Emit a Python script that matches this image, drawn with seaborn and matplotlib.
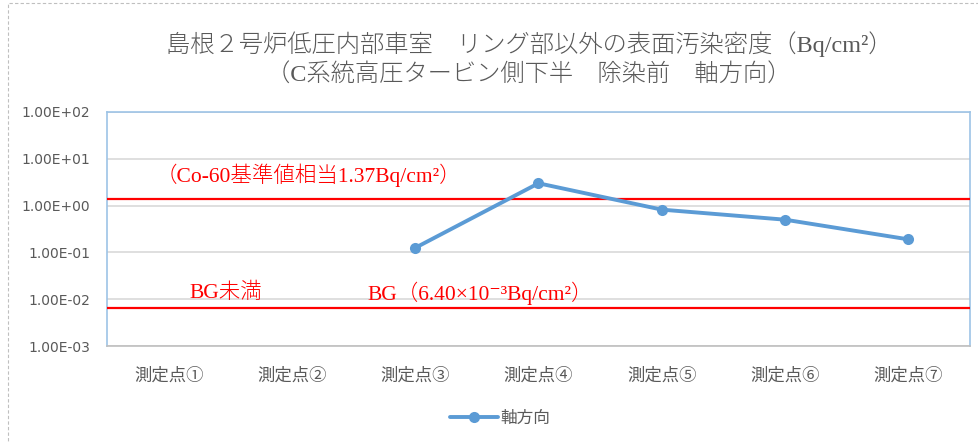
import numpy as np
import pandas as pd
import matplotlib
matplotlib.use("Agg")
import matplotlib.pyplot as plt
import seaborn as sns
from matplotlib.patches import Rectangle
from matplotlib.ticker import FixedLocator, NullLocator

# Data
categories = ["測定点①", "測定点②", "測定点③", "測定点④", "測定点⑤", "測定点⑥", "測定点⑦"]
measured_idx = [2, 3, 4, 5, 6]
measured_vals = [0.125, 3.0, 0.82, 0.50, 0.19]
series_name = "軸方向"
co60_ref = 1.37
bg_level = 6.40e-3
y_ticks = [1e-3, 1e-2, 1e-1, 1e0, 1e1, 1e2]
y_tick_labels = ["1.00E-03", "1.00E-02", "1.00E-01", "1.00E+00", "1.00E+01", "1.00E+02"]

sns.set_theme(style="white")
plt.rcParams["font.family"] = ["Noto Sans CJK JP", "DejaVu Sans"]

SERIF_JP = ["Liberation Serif", "DejaVu Serif", "Noto Sans CJK JP"]
BLUE = "#5B9BD5"
GREY = "#595959"
RED = "#FF0000"

fig = plt.figure(figsize=(9.79, 4.43), dpi=100)
ax = fig.add_axes([107 / 979, 1 - 346 / 443, (970 - 107) / 979, (346 - 112) / 443])

df = pd.DataFrame({"x": measured_idx, "y": measured_vals, "系列": series_name})
sns.lineplot(data=df, x="x", y="y", hue="系列", palette=[BLUE], marker="o",
             markersize=8, markeredgewidth=0, linewidth=2.8, ax=ax, legend=False,
             zorder=4)

ax.set_yscale("log")
ax.set_ylim(1e-3, 1e2)
ax.set_xlim(-0.5, len(categories) - 0.5)
ax.yaxis.set_major_locator(FixedLocator(y_ticks))
ax.yaxis.set_minor_locator(NullLocator())
ax.set_yticklabels(y_tick_labels)
ax.set_xticks(range(len(categories)))
ax.set_xticklabels(categories)
ax.set_xlabel("")
ax.set_ylabel("")
ax.tick_params(axis="both", length=0, labelcolor=GREY)
ax.tick_params(axis="x", pad=15, labelsize=12.5)
ax.tick_params(axis="y", pad=12)
for lbl in ax.get_yticklabels():
    lbl.set_fontfamily(["DejaVu Sans"])
    lbl.set_fontsize(10)

ax.grid(axis="y", color="#D9D9D9", linewidth=1.2)
ax.grid(axis="x", visible=False)
for side in ["left", "top", "right"]:
    ax.spines[side].set_color("#9DC3E6")
    ax.spines[side].set_linewidth(1.2)
ax.spines["bottom"].set_color("#BFBFBF")
ax.spines["bottom"].set_linewidth(1.2)

# Reference lines
ax.axhline(co60_ref, color=RED, linewidth=1.6, zorder=3)
ax.axhline(bg_level, color=RED, linewidth=1.6, zorder=3)

txt_kw = dict(color=RED, fontsize=15.5, va="center", transform=fig.transFigure,
              family=SERIF_JP, fontweight="light")
fig.text(156 / 979, 1 - 175 / 443, "（Co-60基準値相当1.37Bq/cm²）", **txt_kw)
fig.text(189 / 979, 1 - 293 / 443, "BG未満", **txt_kw)
fig.text(367 / 979, 1 - 293 / 443, "BG（6.40×10⁻³Bq/cm²）", **txt_kw)

# Title
title_kw = dict(ha="center", va="center", fontsize=17.5, color=GREY,
                fontweight="light", family=SERIF_JP)
fig.text(529 / 979, 1 - 44 / 443,
         "島根２号炉低圧内部車室　リング部以外の表面汚染密度（Bq/cm²）", **title_kw)
fig.text(529 / 979, 1 - 75 / 443,
         "（C系統高圧タービン側下半　除染前　軸方向）", **title_kw)

# Legend
handle = plt.Line2D([], [], color=BLUE, linewidth=2.8, marker="o", markersize=8,
                    markeredgewidth=0)
fig.legend([handle], [series_name], loc="center", bbox_to_anchor=(0.511, 1 - 418 / 443),
           frameon=False, fontsize=12, labelcolor=GREY, handlelength=2.9,
           handletextpad=0.15)

# Chart area border
fig.patches.append(Rectangle((8 / 979, -0.05), 1.2, 1 - 3 / 443 + 0.05,
                             transform=fig.transFigure, fill=False,
                             edgecolor="#BFBFBF", linestyle=(0, (3, 2)),
                             linewidth=0.8))

fig.savefig("out.png", dpi=100, facecolor="white")
